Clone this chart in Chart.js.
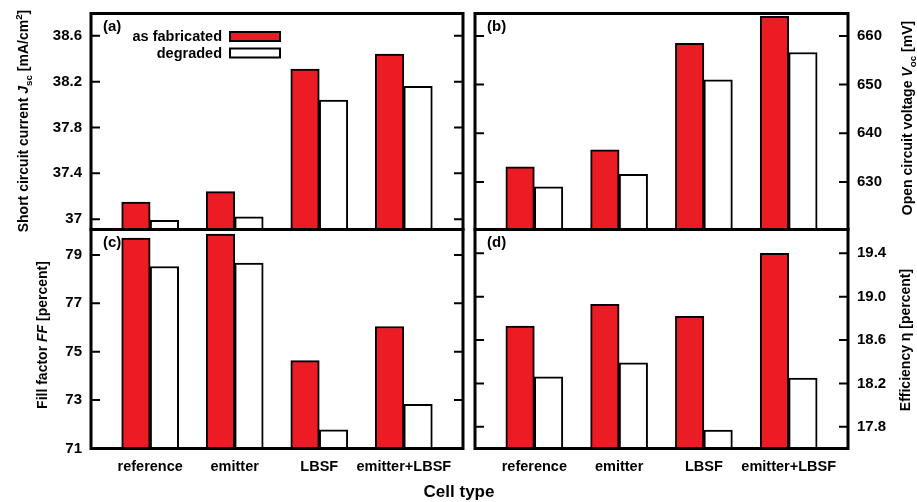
<!DOCTYPE html>
<html>
<head>
<meta charset="utf-8">
<script src="https://cdn.jsdelivr.net/npm/chart.js@4.4.1/dist/chart.umd.min.js"></script>
<style>
  body{margin:0;background:#fff;}
  #fig{position:relative;width:917px;height:502px;overflow:hidden;font-family:"Liberation Sans",Arial,sans-serif;font-weight:bold;color:#000;}
  #fig canvas{position:absolute;}
  .ttl{position:absolute;white-space:nowrap;font-size:14px;line-height:16px;transform:translate(-50%,-50%) rotate(-90deg);}
  .ttl sub,.ttl sup{font-size:70%;line-height:0;}
  #xt{position:absolute;left:459px;top:492px;transform:translate(-50%,-50%);font-size:17px;white-space:nowrap;}
</style>
</head>
<body>
<div id="fig">
  <canvas id="cA" width="470" height="236" style="left:0;top:0"></canvas>
  <canvas id="cB" width="432" height="236" style="left:468px;top:0"></canvas>
  <canvas id="cC" width="470" height="280" style="left:0;top:222px"></canvas>
  <canvas id="cD" width="432" height="280" style="left:468px;top:222px"></canvas>
  <div class="ttl" style="left:23px;top:121px">Short circuit current <i>J</i><sub>sc</sub> [mA/cm<sup>2</sup>]</div>
  <div class="ttl" style="left:42px;top:335px">Fill factor <i>FF</i> [percent]</div>
  <div class="ttl" style="left:907px;top:118px">Open circuit voltage <i>V</i><sub>oc</sub> [mV]</div>
  <div class="ttl" style="left:905px;top:340px">Efficiency η [percent]</div>
  <div id="xt">Cell type</div>
</div>
<script>
// data
const cellTypes=['reference','emitter','LBSF','emitter+LBSF'];
const seriesNames=['as fabricated','degraded'];
const jscFab=[37.15,37.24,38.31,38.44];
const jscDeg=[36.99,37.02,38.04,38.16];
const vocFab=[633.1,636.6,658.5,664.0];
const vocDeg=[629.0,631.6,651.0,656.6];
const ffFab=[79.70,79.86,74.63,76.04];
const ffDeg=[78.52,78.66,71.77,72.83];
const effFab=[18.73,18.93,18.82,19.40];
const effDeg=[18.26,18.39,17.77,18.25];
const jscTicks=['37','37.4','37.8','38.2','38.6'];
const vocTicks=['630','640','650','660'];
const ffTicks=['71','73','75','77','79'];
const effTicks=['17.8','18.2','18.6','19.0','19.4'];

const RED='#ec1c24';
const FONT='"Liberation Sans", Arial, sans-serif';
Chart.defaults.font.family=FONT;
Chart.defaults.font.weight='bold';
Chart.defaults.color='#000';

// frame box + inward ticks on both sides + panel letter
const framePlugin={id:'frame',afterDatasetsDraw(chart,args,o){
  const {ctx,chartArea:a}=chart, y=chart.scales.y;
  ctx.save();
  ctx.strokeStyle='#000';ctx.lineWidth=2;
  y.ticks.forEach(t=>{
    const p=y.getPixelForValue(t.value);
    ctx.beginPath();
    ctx.moveTo(a.left,p);ctx.lineTo(a.left+9,p);
    ctx.moveTo(a.right-9,p);ctx.lineTo(a.right,p);
    ctx.stroke();
  });
  ctx.lineWidth=3;
  ctx.strokeRect(a.left,a.top,a.right-a.left,a.bottom-a.top);
  ctx.fillStyle='#000';ctx.font='bold 15px '+FONT;
  ctx.textAlign='left';ctx.textBaseline='middle';
  ctx.fillText(o.tag,a.left+12,a.top+13);
  ctx.restore();
}};

// legend: text right-aligned, swatch on the right
const keyPlugin={id:'key',afterDatasetsDraw(chart,args,o){
  if(!o.show) return;
  const {ctx,chartArea:a}=chart;
  ctx.save();
  ctx.font='bold 14.5px '+FONT;ctx.textAlign='right';ctx.textBaseline='middle';
  chart.data.datasets.forEach((ds,i)=>{
    const yc=a.top+23+i*16.5;
    ctx.fillStyle='#000';
    ctx.fillText(ds.label,a.left+131,yc+0.5);
    ctx.fillStyle=ds.backgroundColor;
    ctx.fillRect(a.left+139,yc-4.5,50,9);
    ctx.lineWidth=2;ctx.strokeStyle='#000';
    ctx.strokeRect(a.left+139,yc-4.5,50,9);
  });
  ctx.restore();
}};

function makePanel(id,fab,deg,tickLabels,yMin,yMax,o){
  const xAxis={type:'linear',min:-0.7,max:3.7,offset:false,display:o.showX,
    grid:{display:false,drawTicks:false},border:{display:false},
    afterBuildTicks:s=>{s.ticks=cellTypes.map((c,i)=>({value:i}));},
    ticks:{autoSkip:false,maxRotation:0,padding:10,font:{size:14.5,weight:'bold'},callback:(v,i)=>cellTypes[i]},
    afterFit:s=>{s.height=o.showX?53.5:0;s.paddingLeft=0;s.paddingRight=0;}};
  const yAxis={type:'linear',position:o.side,min:yMin,max:yMax,
    grid:{display:false,drawTicks:false},border:{display:false},
    afterBuildTicks:s=>{s.ticks=tickLabels.map(t=>({value:+t}));},
    ticks:{padding:9,font:{size:15,weight:'bold'},callback:(v,i)=>tickLabels[i]},
    afterFit:s=>{s.width=o.axisW;s.paddingTop=0;s.paddingBottom=0;}};
  return new Chart(document.getElementById(id),{
    type:'bar',
    data:{datasets:[
      {label:seriesNames[0],data:fab.map((v,i)=>({x:i,y:v})),backgroundColor:RED,borderColor:'#000',borderWidth:2,barThickness:28.5},
      {label:seriesNames[1],data:deg.map((v,i)=>({x:i,y:v})),backgroundColor:'#fff',borderColor:'#000',borderWidth:2,barThickness:28.5}
    ]},
    options:{responsive:false,animation:false,events:[],
      layout:{padding:o.pad},
      plugins:{legend:{display:false},tooltip:{enabled:false},frame:{tag:o.tag},key:{show:!!o.key}},
      scales:{x:xAxis,y:yAxis}},
    plugins:[framePlugin,keyPlugin]
  });
}

makePanel('cA',jscFab,jscDeg,jscTicks,36.91,38.795,{side:'left',axisW:91,showX:false,tag:'(a)',key:true,
  pad:{left:0,right:7,top:13.5,bottom:6.5}});
makePanel('cB',vocFab,vocDeg,vocTicks,620.25,664.6,{side:'right',axisW:52,showX:false,tag:'(b)',
  pad:{left:7,right:0,top:13.5,bottom:6.5}});
makePanel('cC',ffFab,ffDeg,ffTicks,71,80.05,{side:'left',axisW:91,showX:true,tag:'(c)',
  pad:{left:0,right:7,top:7.5,bottom:0}});
makePanel('cD',effFab,effDeg,effTicks,17.6,19.62,{side:'right',axisW:52,showX:true,tag:'(d)',
  pad:{left:7,right:0,top:7.5,bottom:0}});
</script>
</body>
</html>
